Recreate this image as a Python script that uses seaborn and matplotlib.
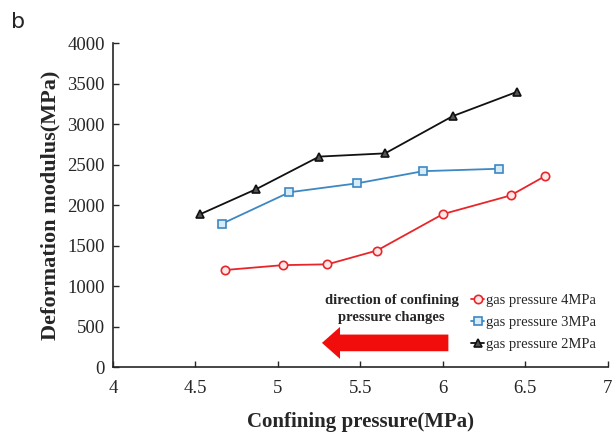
import matplotlib
matplotlib.use("Agg")
import matplotlib.pyplot as plt
import matplotlib.patches as mpatches
import seaborn as sns
import pandas as pd

# ---- data ----
x_4mpa = [4.68, 5.03, 5.30, 5.60, 6.00, 6.41, 6.62]
y_4mpa = [1200, 1260, 1270, 1440, 1890, 2120, 2360]
x_3mpa = [4.66, 5.07, 5.48, 5.88, 6.34]
y_3mpa = [1770, 2160, 2270, 2420, 2450]
x_2mpa = [4.53, 4.87, 5.25, 5.65, 6.06, 6.45]
y_2mpa = [1890, 2200, 2600, 2640, 3100, 3400]
series_labels = ["gas pressure 4MPa", "gas pressure 3MPa", "gas pressure 2MPa"]
x_ticks = [4, 4.5, 5, 5.5, 6, 6.5, 7]
x_tick_labels = ["4", "4.5", "5", "5.5", "6", "6.5", "7"]
y_ticks = [0, 500, 1000, 1500, 2000, 2500, 3000, 3500, 4000]

sns.set_style("ticks")
plt.rcParams['font.family'] = ['Liberation Serif', 'DejaVu Serif']
plt.rcParams['xtick.direction'] = 'in'
plt.rcParams['ytick.direction'] = 'in'

fig = plt.figure(figsize=(6.14, 4.32), dpi=100)
ax = fig.add_axes([0.184, 0.150, 0.806, 0.750])

styles = [
    dict(color="#e8262a", marker="o", mfc="#fde8e8", mec="#e8262a"),
    dict(color="#3d88c2", marker="s", mfc="#d6ecf8", mec="#3d88c2"),
    dict(color="#111111", marker="^", mfc="#555555", mec="#111111"),
]
data = [(x_4mpa, y_4mpa), (x_3mpa, y_3mpa), (x_2mpa, y_2mpa)]
for (xs, ys), lab, st in zip(data, series_labels, styles):
    df = pd.DataFrame({"x": xs, "y": ys})
    sns.lineplot(data=df, x="x", y="y", ax=ax, sort=False, label=lab,
                 color=st["color"], marker=st["marker"], markersize=6,
                 markerfacecolor=st["mfc"], markeredgecolor=st["mec"],
                 markeredgewidth=1.2, linewidth=1.3)

ax.set_xlim(4, 7)
ax.set_ylim(0, 4000)
ax.set_xticks(x_ticks)
ax.set_xticklabels(x_tick_labels)
ax.set_yticks(y_ticks)
ax.tick_params(labelsize=13.5, length=4, width=1)
ax.tick_params(axis="x", pad=9)
ax.tick_params(axis="y", pad=6)
for s in ["top", "right"]:
    ax.spines[s].set_visible(False)
for s in ["left", "bottom"]:
    ax.spines[s].set_linewidth(1.2)

ax.set_xlabel("Confining pressure(MPa)", fontsize=15, fontweight="bold", labelpad=11)
ax.set_ylabel("Deformation modulus(MPa)", fontsize=16, fontweight="bold", labelpad=5)

leg = ax.legend(loc="upper left", bbox_to_anchor=(0.712, 0.245), frameon=False,
                fontsize=10.5, handlelength=0.9, handletextpad=0.15,
                labelspacing=0.6, borderaxespad=0)

ax.text(5.69, 720, "direction of confining\npressure changes", ha="center",
        va="center", fontsize=10.5, fontweight="bold", linespacing=1.35)

arrow = mpatches.FancyArrowPatch((6.05, 300), (5.25, 300),
                                 arrowstyle="simple,head_length=1.3,head_width=2.3,tail_width=1.2",
                                 mutation_scale=10, color="#f20d0d", lw=0)
ax.add_patch(arrow)

fig.text(0.018, 0.935, "b", fontsize=16, family="DejaVu Sans")

fig.savefig("out.png", dpi=100)
